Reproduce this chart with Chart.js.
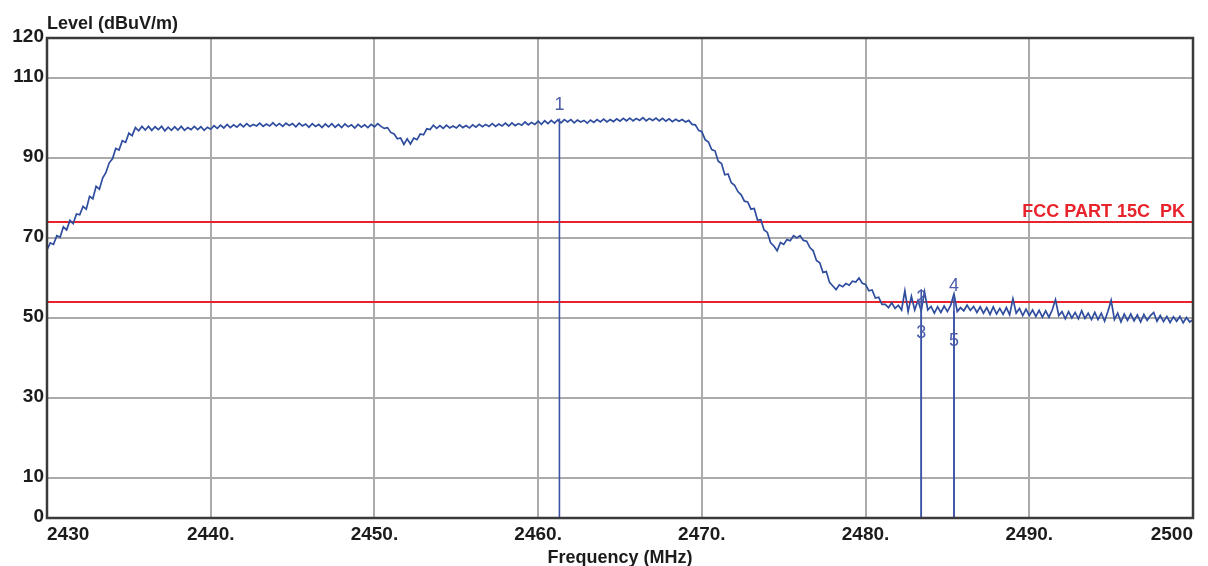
<!DOCTYPE html>
<html><head><meta charset="utf-8">
<script src="https://cdn.jsdelivr.net/npm/chart.js@4/dist/chart.umd.min.js"></script>
<style>html,body{margin:0;padding:0;background:#fff;overflow:hidden}#wrap{width:1208px;height:566px;position:relative}</style>
</head><body><div id="wrap"><canvas id="c" width="1208" height="566"></canvas></div>
<script>
const freqStart = 2430;
const freqStep = 0.2;
const levels = [
67.0,68.8,68.4,70.6,70.2, 72.8,72.0,74.4,73.6,76.0, 75.8,77.9,77.2,80.4,79.8, 82.9,82.2,85.0,86.4,88.8,
89.8,92.4,92.0,94.3,93.9, 96.2,95.6,97.6,96.8,97.9, 97.0,97.9,96.9,97.8,97.1, 97.9,96.8,97.7,96.9,97.8,
97.0,97.9,96.9,97.6,97.1, 97.9,97.1,97.8,96.9,97.7, 97.2,98.1,97.4,98.2,97.5, 98.4,97.6,98.3,97.7,98.5,
97.8,98.6,97.9,98.4,98.0, 98.7,97.9,98.5,98.0,98.8, 98.0,98.6,97.9,98.7,98.1, 98.6,97.8,98.7,98.0,98.5,
97.7,98.6,97.9,98.4,97.6, 98.5,97.8,98.6,97.7,98.4, 97.6,98.5,97.8,98.3,97.5, 98.4,97.7,98.3,97.6,98.4,
97.8,98.6,97.9,97.4,97.6, 96.4,96.0,94.8,95.0,93.4, 94.8,93.5,95.0,94.6,96.0, 95.8,97.3,97.1,98.2,97.4,
98.1,97.4,98.2,97.5,98.0, 97.5,98.3,97.6,98.1,97.5, 98.3,97.7,98.4,97.8,98.4, 97.9,98.6,97.9,98.5,98.0,
98.7,98.0,98.8,98.1,98.6, 98.2,99.0,98.3,98.9,98.4, 99.2,98.4,99.3,98.6,99.4, 98.7,99.5,98.8,99.6,99.0,
99.6,98.8,99.5,99.0,99.4, 98.7,99.5,98.9,99.6,99.0, 99.7,99.0,99.6,99.1,99.8, 99.2,99.9,99.3,100.0,99.3,
99.9,99.4,100.1,99.3,99.9, 99.4,100.0,99.3,99.9,99.2, 99.8,99.1,99.7,99.2,99.6, 99.0,99.4,98.4,98.3,96.9,
96.6,94.6,94.0,92.1,91.8, 89.2,88.6,85.8,86.0,83.8, 83.2,81.6,80.8,79.2,79.0, 77.2,77.4,74.5,74.6,72.0,
71.4,68.8,68.0,66.8,68.9, 68.4,69.6,69.3,70.6,70.0, 70.6,69.4,69.2,67.6,66.8, 64.4,63.8,61.4,61.6,58.9,
58.0,57.1,58.3,57.8,58.6, 58.2,59.2,59.0,60.0,58.7, 58.4,56.8,57.0,55.0,55.2, 53.4,53.4,52.6,53.8,52.4,
53.2,52.0,56.8,51.6,55.4, 52.0,54.4,51.8,56.6,52.0, 52.9,51.2,52.8,51.4,53.0, 51.6,53.2,56.0,51.6,52.6,
51.8,53.2,51.9,52.9,51.4, 52.8,51.2,52.6,50.9,52.8, 51.0,52.4,50.9,52.6,50.8, 54.8,51.2,52.4,50.6,52.2,
50.6,52.0,50.4,51.9,50.2, 51.8,50.2,52.0,54.6,50.6, 51.6,49.8,51.6,50.0,51.4, 49.8,51.8,49.9,51.2,49.6,
51.4,49.6,51.2,49.2,51.6, 54.4,49.6,51.2,49.0,51.0, 49.4,51.0,49.3,50.8,49.0, 50.9,49.4,50.6,51.4,49.2,
50.6,49.1,50.4,48.9,50.3, 49.2,50.4,48.8,50.1,49.0, 49.6
];
const limitNames = ['FCC PART 15C  PK', ''];
const limitValues = [74, 54];
const markerNames = ['1', '2', '3', '4', '5'];
const markerFreqs = [2461.3, 2483.4, 2483.4, 2485.4, 2485.4];
const markerLevels = [99.9, 57.2, 52.0, 55.4, 51.8];
const xTicks = [2430, 2440, 2450, 2460, 2470, 2480, 2490, 2500];
const xTickLabels = ['2430', '2440.', '2450.', '2460.', '2470.', '2480.', '2490.', '2500'];
const yTicks = [0, 10, 30, 50, 70, 90, 110, 120];
const yTickLabels = ['0', '10', '30', '50', '70', '90', '110', '120'];
const xMin = 2430, xMax = 2500, yMin = 0, yMax = 120;

const markerLabelOffsets = [-13, 9, 23, -10, 30];
const TXT = '#1b1b1b';
const FONT = 'Liberation Sans, Arial, sans-serif';

const datasets = [];
datasets.push({
  data: levels.map((v, i) => ({x: freqStart + i * freqStep, y: v})),
  borderColor: '#2f4d9e', borderWidth: 1.7, pointRadius: 0, tension: 0, order: 1
});
limitValues.forEach(v => datasets.push({
  data: [{x: xMin, y: v}, {x: xMax, y: v}],
  borderColor: '#e8232b', borderWidth: 2, pointRadius: 0, order: 2
}));
markerFreqs.forEach((f, i) => datasets.push({
  data: [{x: f, y: yMin}, {x: f, y: markerLevels[i]}],
  borderColor: '#3a53a6', borderWidth: 1.6, pointRadius: 0, order: 0
}));

const deco = {
  id: 'deco',
  afterDraw(chart) {
    const ctx = chart.ctx, a = chart.chartArea;
    const xs = chart.scales.x, ys = chart.scales.y;
    ctx.save();
    ctx.strokeStyle = '#3a3a3a';
    ctx.lineWidth = 2.5;
    ctx.strokeRect(a.left, a.top, a.right - a.left, a.bottom - a.top);
    ctx.fillStyle = TXT;
    ctx.font = 'bold 19px ' + FONT;
    ctx.textAlign = 'right';
    ctx.textBaseline = 'middle';
    yTicks.forEach((v, i) => ctx.fillText(yTickLabels[i], a.left - 3, ys.getPixelForValue(v) - 1));
    ctx.textBaseline = 'top';
    xTicks.forEach((v, i) => {
      const px = xs.getPixelForValue(v);
      ctx.textAlign = i === 0 ? 'left' : (i === xTicks.length - 1 ? 'right' : 'center');
      ctx.fillText(xTickLabels[i], px, a.bottom + 7);
    });
    ctx.font = 'bold 18px ' + FONT;
    ctx.textAlign = 'left';
    ctx.textBaseline = 'alphabetic';
    ctx.fillText('Level (dBuV/m)', a.left, 29);
    ctx.textAlign = 'center';
    ctx.textBaseline = 'top';
    ctx.fillText('Frequency (MHz)', 620, 549);
    ctx.fillStyle = '#e8232b';
    ctx.textAlign = 'right';
    ctx.textBaseline = 'alphabetic';
    limitValues.forEach((v, i) => {
      if (limitNames[i]) ctx.fillText(limitNames[i], a.right - 8, ys.getPixelForValue(v) - 5);
    });
    ctx.fillStyle = '#4b5cab';
    ctx.font = '18px ' + FONT;
    ctx.textAlign = 'center';
    ctx.textBaseline = 'middle';
    markerNames.forEach((n, i) => {
      ctx.fillText(n, xs.getPixelForValue(markerFreqs[i]), ys.getPixelForValue(markerLevels[i]) + markerLabelOffsets[i]);
    });
    ctx.restore();
  }
};

new Chart(document.getElementById('c'), {
  type: 'line',
  data: {datasets},
  options: {
    responsive: false, animation: false, devicePixelRatio: 1,
    layout: {padding: {left: 47, top: 38, right: 15, bottom: 48}},
    plugins: {legend: {display: false}, tooltip: {enabled: false}},
    scales: {
      x: {
        type: 'linear', min: xMin, max: xMax,
        afterBuildTicks: s => { s.ticks = xTicks.map(v => ({value: v})); },
        ticks: {display: false},
        grid: {color: '#ababab', lineWidth: 2, drawTicks: false},
        border: {display: false}
      },
      y: {
        type: 'linear', min: yMin, max: yMax,
        afterBuildTicks: s => { s.ticks = yTicks.map(v => ({value: v})); },
        ticks: {display: false},
        grid: {color: '#ababab', lineWidth: 2, drawTicks: false},
        border: {display: false}
      }
    }
  },
  plugins: [deco]
});
</script>
</body></html>
